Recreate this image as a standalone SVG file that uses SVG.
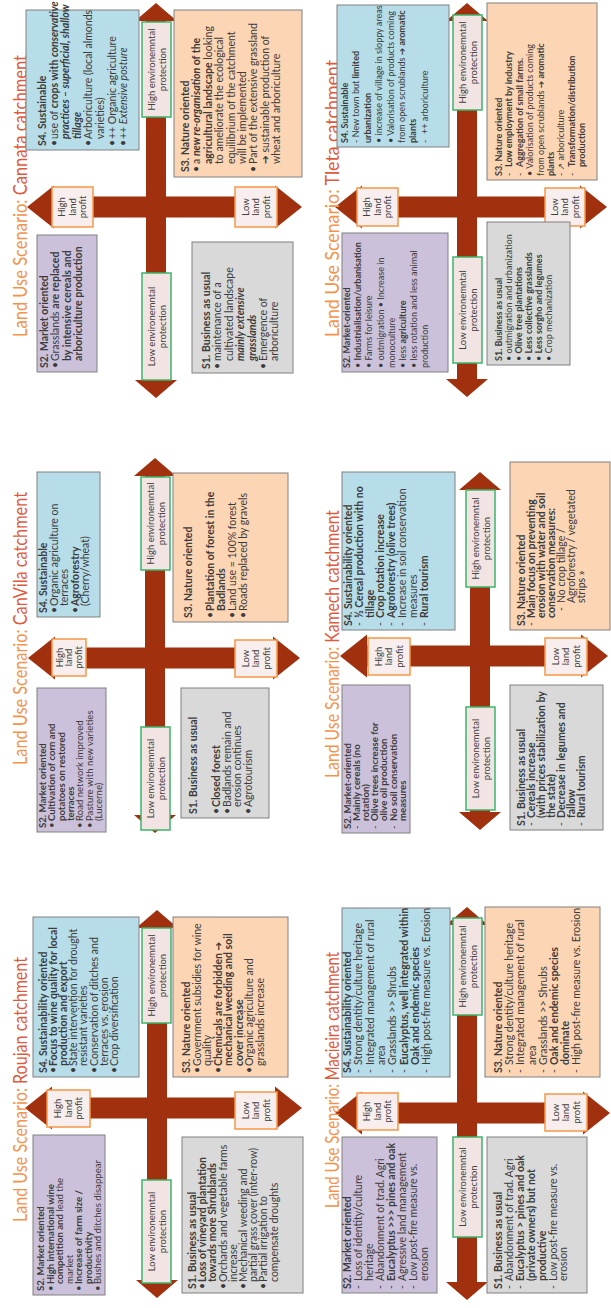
<svg xmlns="http://www.w3.org/2000/svg" width="611" height="1308" viewBox="0 0 611 1308">
<style>
.bx{stroke:#808080;stroke-width:1}
.s1{fill:#d9d9d9}.s2{fill:#ccc1da}.s3{fill:#fcd5b5}.s4{fill:#b7dde8}
.t{font-family:Lato,"Liberation Sans",sans-serif;font-size:10.5px;fill:#3c3c3c}
.sm{font-size:9px}
.md{font-size:9.6px}
.b{font-weight:bold}.i{font-style:italic}
.ar{fill:#a1300e}
.pl{fill:#f7eeed;stroke:#f79646;stroke-width:1.5}
.el{fill:#f2e4e3;stroke:#3cb46b;stroke-width:1.5}
.lb{font-family:Lato,"Liberation Sans",sans-serif;font-size:9.5px;fill:#404040;text-anchor:middle}
.ttl{font-family:Lato,"Liberation Sans",sans-serif;font-size:19px}
.o{fill:#f5934a}.r{fill:#df5a3c}
.sym{font-family:"DejaVu Sans",sans-serif}
</style>
<rect width="611" height="1308" fill="#ffffff"/>
<g transform="translate(0,1308) rotate(-90)">
<g id="connectors">
<polygon class="ar" points="200,25 221.5,52 210.5,52 210.5,275 221.5,275 200,302 178.5,275 189.5,275 189.5,52 178.5,52"/>
<polygon class="ar" points="10,157 28,136 28,147 380,147 380,136 398,157 380,178 380,167 28,167 28,178"/>
<polygon class="ar" points="650,28 671.5,55 660.5,55 660.5,273 671.5,273 650,300 628.5,273 639.5,273 639.5,55 628.5,55"/>
<polygon class="ar" points="475,155 493,134 493,145 832,145 832,134 850,155 832,176 832,165 493,165 493,176"/>
<polygon class="ar" points="1101,27 1122.5,54 1111.5,54 1111.5,275 1122.5,275 1101,302 1079.5,275 1090.5,275 1090.5,54 1079.5,54"/>
<polygon class="ar" points="910,156 928,135 928,146 1287,146 1287,135 1305,156 1287,177 1287,166 928,166 928,177"/>
<polygon class="ar" points="195,335 216.5,362 205.5,362 205.5,583 216.5,583 195,610 173.5,583 184.5,583 184.5,362 173.5,362"/>
<polygon class="ar" points="8,467 26,446 26,457 383,457 383,446 401,467 383,488 383,477 26,477 26,488"/>
<polygon class="ar" points="652,340 673.5,367 662.5,367 662.5,581 673.5,581 652,608 630.5,581 641.5,581 641.5,367 630.5,367"/>
<polygon class="ar" points="478,480 496,459 496,470 818,470 818,459 836,480 818,501 818,490 496,490 496,501"/>
<polygon class="ar" points="1101,335 1122.5,362 1111.5,362 1111.5,580 1122.5,580 1101,607 1079.5,580 1090.5,580 1090.5,362 1079.5,362"/>
<polygon class="ar" points="911,467 929,446 929,457 1287,457 1287,446 1305,467 1287,488 1287,477 929,477 929,488"/>
</g>

<g id="axis-labels">
<rect class="pl" x="181" y="47" width="37" height="43"/><text class="lb" x="199.5" y="61.3">High</text><text class="lb" x="199.5" y="71.8">land</text><text class="lb" x="199.5" y="82.3">profit</text>
<rect class="pl" x="179" y="235" width="37" height="42"/><text class="lb" x="197.5" y="248.8">Low</text><text class="lb" x="197.5" y="259.3">land</text><text class="lb" x="197.5" y="269.8">profit</text>
<rect class="el" x="285" y="142" width="95" height="29"/><text class="lb" x="332.5" y="154.5">High environemntal</text><text class="lb" x="332.5" y="166">protection</text>
<rect class="el" x="25" y="142" width="103" height="29"/><text class="lb" x="76.5" y="154.5">Low environemntal</text><text class="lb" x="76.5" y="166">protection</text>

<rect class="pl" x="632" y="52" width="37" height="34"/><text class="lb" x="650.5" y="62.8">High</text><text class="lb" x="650.5" y="72.3">land</text><text class="lb" x="650.5" y="81.8">profit</text>
<rect class="pl" x="631" y="235" width="37" height="42"/><text class="lb" x="649.5" y="248.8">Low</text><text class="lb" x="649.5" y="259.3">land</text><text class="lb" x="649.5" y="269.8">profit</text>
<rect class="el" x="738" y="141" width="93" height="29"/><text class="lb" x="784.5" y="153.5">High environemntal</text><text class="lb" x="784.5" y="165">protection</text>
<rect class="el" x="478" y="141" width="103" height="29"/><text class="lb" x="529.5" y="153.5">Low environemntal</text><text class="lb" x="529.5" y="165">protection</text>

<rect class="pl" x="1081" y="52" width="40" height="41"/><text class="lb" x="1101" y="65.3">High</text><text class="lb" x="1101" y="75.8">land</text><text class="lb" x="1101" y="86.3">profit</text>
<rect class="pl" x="1081" y="235" width="40" height="42"/><text class="lb" x="1101" y="248.8">Low</text><text class="lb" x="1101" y="259.3">land</text><text class="lb" x="1101" y="269.8">profit</text>
<rect class="el" x="1191" y="142" width="95" height="29"/><text class="lb" x="1238.5" y="154.5">High environemntal</text><text class="lb" x="1238.5" y="166">protection</text>
<rect class="el" x="928" y="142" width="107" height="29"/><text class="lb" x="981.5" y="154.5">Low environemntal</text><text class="lb" x="981.5" y="166">protection</text>

<rect class="pl" x="178" y="357" width="37" height="41"/><text class="lb" x="196.5" y="370.3">High</text><text class="lb" x="196.5" y="380.8">land</text><text class="lb" x="196.5" y="391.3">profit</text>
<rect class="pl" x="177" y="545" width="37" height="42"/><text class="lb" x="195.5" y="558.8">Low</text><text class="lb" x="195.5" y="569.3">land</text><text class="lb" x="195.5" y="579.8">profit</text>
<rect class="el" x="293" y="453" width="97" height="29"/><text class="lb" x="341.5" y="465.5">High environemntal</text><text class="lb" x="341.5" y="477">protection</text>
<rect class="el" x="71" y="453" width="100" height="29"/><text class="lb" x="121" y="465.5">Low environemntal</text><text class="lb" x="121" y="477">protection</text>

<rect class="pl" x="633" y="368" width="37" height="42"/><text class="lb" x="651.5" y="381.8">High</text><text class="lb" x="651.5" y="392.3">land</text><text class="lb" x="651.5" y="402.8">profit</text>
<rect class="pl" x="633" y="545" width="37" height="42"/><text class="lb" x="651.5" y="558.8">Low</text><text class="lb" x="651.5" y="569.3">land</text><text class="lb" x="651.5" y="579.8">profit</text>
<rect class="el" x="721" y="466" width="97" height="29"/><text class="lb" x="769.5" y="478.5">High environemntal</text><text class="lb" x="769.5" y="490">protection</text>
<rect class="el" x="498" y="466" width="103" height="29"/><text class="lb" x="549.5" y="478.5">Low environemntal</text><text class="lb" x="549.5" y="490">protection</text>

<rect class="pl" x="1082" y="357" width="38" height="41"/><text class="lb" x="1101" y="370.3">High</text><text class="lb" x="1101" y="380.8">land</text><text class="lb" x="1101" y="391.3">profit</text>
<rect class="pl" x="1082" y="545" width="38" height="40"/><text class="lb" x="1101" y="557.8">Low</text><text class="lb" x="1101" y="568.3">land</text><text class="lb" x="1101" y="578.8">profit</text>
<rect class="el" x="1198" y="453" width="95" height="29"/><text class="lb" x="1245.5" y="465.5">High environemntal</text><text class="lb" x="1245.5" y="477">protection</text>
<rect class="el" x="945" y="453" width="106" height="29"/><text class="lb" x="998" y="465.5">Low environemntal</text><text class="lb" x="998" y="477">protection</text>
</g>

<g id="titles">
<text class="ttl" x="86" y="27" textLength="265" lengthAdjust="spacingAndGlyphs"><tspan class="o">Land Use Scenario: </tspan><tspan class="r">Roujan catchment</tspan></text>
<text class="ttl" x="543" y="27" textLength="273" lengthAdjust="spacingAndGlyphs"><tspan class="o">Land Use Scenario: </tspan><tspan class="r">CanVila catchment</tspan></text>
<text class="ttl" x="971" y="27" textLength="282" lengthAdjust="spacingAndGlyphs"><tspan class="o">Land Use Scenario: </tspan><tspan class="r">Cannata catchment</tspan></text>
<text class="ttl" x="100" y="339" textLength="256" lengthAdjust="spacingAndGlyphs"><tspan class="o">Land Use Scenario: </tspan><tspan class="r">Macieira catchment</tspan></text>
<text class="ttl" x="530" y="339" textLength="268" lengthAdjust="spacingAndGlyphs"><tspan class="o">Land Use Scenario: </tspan><tspan class="r">Kamech catchment</tspan></text>
<text class="ttl" x="971" y="339" textLength="277" lengthAdjust="spacingAndGlyphs"><tspan class="o">Land Use Scenario: </tspan><tspan class="r">Tleta catchment</tspan></text>
</g>

<!-- ROUJAN -->
<g id="roujan-s2" class="t md">
<rect class="bx s2" x="13" y="33" width="160" height="72"/>
<text class="b" x="17" y="44">S2. Market oriented</text>
<text x="17" y="53.5">•</text><text class="b" x="24" y="53.5">High international wine</text>
<text x="24" y="63"><tspan class="b">competition and</tspan> lead the</text>
<text x="24" y="72.5">market</text>
<text x="17" y="82">•</text><text class="b" x="24" y="82">Increase of farm size /</text>
<text class="b" x="24" y="91.5">productivity</text>
<text x="17" y="101">•</text><text x="24" y="101">Bushes and ditches disappear</text>
</g>
<g id="roujan-s4" class="t">
<rect class="bx s4" x="231" y="33" width="160" height="106"/>
<text class="b" x="235" y="47">S4. Sustainability oriented</text>
<text x="235" y="57.1">•</text><text class="b" x="242" y="57.1">Focus to wine quality for local</text>
<text class="b" x="242" y="67.2">production and export</text>
<text x="235" y="77.3">•</text><text x="242" y="77.3">State intervention for drought</text>
<text x="242" y="87.4">resistant varieties</text>
<text x="235" y="97.5">•</text><text x="242" y="97.5">Conservation of ditches and</text>
<text x="242" y="107.6">terraces vs. erosion</text>
<text x="235" y="117.7">•</text><text x="242" y="117.7">Crop diversification</text>
</g>
<g id="roujan-s3" class="t">
<rect class="bx s3" x="231" y="173" width="160" height="115"/>
<text class="b" x="235" y="190">S3. Nature oriented</text>
<text x="235" y="200.5">•</text><text x="242" y="200.5">Government subsidies for wine</text>
<text x="242" y="211">quality</text>
<text x="235" y="221.5">•</text><text class="b" x="242" y="221.5">Chemicals are forbidden <tspan class="sym">➔</tspan></text>
<text class="b" x="242" y="232">mechanical weeding and soil</text>
<text class="b" x="242" y="242.5">cover increase</text>
<text x="235" y="253">•</text><text x="242" y="253">Organic agriculture and</text>
<text x="242" y="263.5">grasslands increase</text>
</g>
<g id="roujan-s1" class="t">
<rect class="bx s1" x="15" y="182" width="156" height="121"/>
<text class="b" x="19" y="196">S1. Business as usual</text>
<text x="19" y="206.2">•</text><text class="b" x="26" y="206.2">Loss of vineyard plantation</text>
<text class="b" x="26" y="216.4">towards more Shrublands</text>
<text x="19" y="226.6">•</text><text x="26" y="226.6">Orchards and vegetable farms</text>
<text x="26" y="236.8">increase</text>
<text x="19" y="247">•</text><text x="26" y="247">Mechanical weeding and</text>
<text x="26" y="257.2">partial grass cover (inter-row)</text>
<text x="19" y="267.4">•</text><text x="26" y="267.4">Partial irrigation to</text>
<text x="26" y="277.6">compensate droughts</text>
</g>

<!-- CANVILA -->
<g id="canvila-s2" class="t md">
<rect class="bx s2" x="476" y="37" width="144" height="69"/>
<text class="b" x="480" y="46">S2. Market oriented</text>
<text x="480" y="55.3">•</text><text class="b" x="487" y="55.3">Cultivation of corn and</text>
<text class="b" x="487" y="64.6">potatoes on restored</text>
<text class="b" x="487" y="73.9">terraces</text>
<text x="480" y="83.2">•</text><text x="487" y="83.2">Road network improved</text>
<text x="480" y="92.5">•</text><text x="487" y="92.5">Pasture with new varieties</text>
<text x="487" y="101.8">(Lucerne)</text>
</g>
<g id="canvila-s4" class="t">
<rect class="bx s4" x="691" y="37" width="145" height="63"/>
<text class="b" x="695" y="47">S4. Sustainable</text>
<text x="695" y="57.5">•</text><text x="702" y="57.5">Organic agriculture on</text>
<text x="702" y="68">terraces</text>
<text x="695" y="78.5">•</text><text class="b" x="702" y="78.5">Agroforestry</text>
<text x="702" y="89">(Cherry/wheat)</text>
</g>
<g id="canvila-s3" class="t">
<rect class="bx s3" x="686" y="173" width="149" height="115"/>
<text class="b" x="690" y="192">S3. Nature oriented</text>
<text x="690" y="214">•</text><text class="b" x="697" y="214">Plantation of forest in the</text>
<text class="b" x="697" y="225">Badlands</text>
<text x="690" y="236">•</text><text x="697" y="236">Land use = 100% forest</text>
<text x="690" y="247">•</text><text x="697" y="247">Roads replaced by gravels</text>
</g>
<g id="canvila-s1" class="t">
<rect class="bx s1" x="490" y="181" width="130" height="88"/>
<text class="b" x="494" y="197">S1. Business as usual</text>
<text x="494" y="220">•</text><text class="b" x="501" y="220">Closed forest</text>
<text x="494" y="230.5">•</text><text x="501" y="230.5">Badlands remain and</text>
<text x="501" y="241">erosion continues</text>
<text x="494" y="251.5">•</text><text x="501" y="251.5">Agrotourism</text>
</g>

<!-- CANNATA -->
<g id="cannata-s4" class="t">
<rect class="bx s4" x="1158" y="26" width="140" height="113"/>
<text class="b" x="1162" y="46">S4. Sustainable</text>
<text x="1162" y="57.6">•</text><text x="1169" y="57.6">use of <tspan class="b">crops with </tspan><tspan class="b i">conservative</tspan></text>
<text class="b i" x="1169" y="69.2">practices – superficial, shallow</text>
<text class="b i" x="1169" y="80.8">tillage</text>
<text x="1162" y="92.4">•</text><text x="1169" y="92.4">Arboriculture (local almonds</text>
<text x="1169" y="104">varieties)</text>
<text x="1162" y="115.6">•</text><text x="1169" y="115.6">++ Organic agriculture</text>
<text x="1162" y="127.2">•</text><text x="1169" y="127.2">++ <tspan class="i">Extensive posture</tspan></text>
</g>
<g id="cannata-s2" class="t">
<rect class="bx s2" x="936" y="37" width="137" height="60"/>
<text class="b" x="940" y="47.5">S2. Market oriented</text>
<text x="940" y="59">•</text><text x="947" y="59">Grasslands <tspan class="b">are replaced</tspan></text>
<text class="b" x="947" y="70.5">by intensive cereals and</text>
<text class="b" x="947" y="82">arboriculture production</text>
</g>
<g id="cannata-s3" class="t">
<rect class="bx s3" x="1131" y="174" width="167" height="128"/>
<text class="b" x="1136" y="189">S3. Nature oriented</text>
<text x="1136" y="200.4">•</text><text x="1144" y="200.4">a <tspan class="b i">new re-organisation</tspan><tspan class="b"> of the</tspan></text>
<text x="1144" y="211.8"><tspan class="b">agricultural landscape</tspan> looking</text>
<text x="1144" y="223.2">to ameliorate the ecological</text>
<text x="1144" y="234.6">equilibrium of the catchment</text>
<text x="1144" y="246">will be implemented</text>
<text x="1136" y="257.4">•</text><text x="1144" y="257.4">Part of the extensive grassland</text>
<text x="1144" y="268.8"><tspan class="sym b">➔</tspan> sustainable production of</text>
<text x="1144" y="280.2">wheat and arboriculture</text>
</g>
<g id="cannata-s1" class="t">
<rect class="bx s1" x="935" y="192" width="131" height="101"/>
<text class="b" x="939" y="210">S1. Business as usual</text>
<text x="939" y="221.4">•</text><text x="947" y="221.4">maintenance of a</text>
<text x="947" y="232.8">cultivated landscape</text>
<text class="b i" x="947" y="244.2">mainly extensive</text>
<text class="b i" x="947" y="255.6">grasslands</text>
<text x="939" y="267">•</text><text x="947" y="267">Emergence of</text>
<text x="947" y="278.4">arboriculture</text>
</g>

<!-- MACIEIRA -->
<g id="macieira-s2" class="t">
<rect class="bx s2" x="15" y="342" width="156" height="95"/>
<text class="b" x="19" y="351">S2. Market oriented</text>
<text x="19" y="362">-</text><text x="27" y="362">Loss of identity/culture</text>
<text x="27" y="373">heritage</text>
<text x="19" y="384">-</text><text x="27" y="384">Abandonment of trad. Agri</text>
<text x="19" y="395">-</text><text class="b" x="27" y="395">Eucalyptus &gt;&gt;&gt; pines and oak</text>
<text x="19" y="406">-</text><text x="27" y="406">Agressive land management</text>
<text x="19" y="417">-</text><text x="27" y="417">Low post-fire measure vs.</text>
<text x="27" y="428">erosion</text>
</g>
<g id="macieira-s4" class="t">
<rect class="bx s4" x="231" y="342" width="169" height="108"/>
<text class="b" x="235" y="351">S4. Sustainability oriented</text>
<text x="235" y="362.3">-</text><text x="243" y="362.3">Strong dentity/culture heritage</text>
<text x="235" y="373.6">-</text><text x="243" y="373.6">Integrated management of rural</text>
<text x="243" y="384.9">area</text>
<text x="235" y="396.2">-</text><text x="243" y="396.2">Grasslands &gt;&gt; Shrubs</text>
<text x="235" y="407.5">-</text><text class="b" x="243" y="407.5">Eucalyptus, well integrated within</text>
<text class="b" x="243" y="418.8">Oak and endemic species</text>
<text x="235" y="430.1">-</text><text x="243" y="430.1">High post-fire measure vs. Erosion</text>
</g>
<g id="macieira-s3" class="t">
<rect class="bx s3" x="231" y="485" width="170" height="115"/>
<text class="b" x="235" y="502">S3. Nature oriented</text>
<text x="235" y="513.2">-</text><text x="243" y="513.2">Strong dentity/culture heritage</text>
<text x="235" y="524.4">-</text><text x="243" y="524.4">Integrated management of rural</text>
<text x="243" y="535.6">area</text>
<text x="235" y="546.8">-</text><text x="243" y="546.8">Grasslands &gt;&gt; Shrubs</text>
<text x="235" y="558">-</text><text class="b" x="243" y="558">Oak and endemic species</text>
<text class="b" x="243" y="569.2">dominate</text>
<text x="235" y="580.4">-</text><text x="243" y="580.4">High post-fire measure vs. Erosion</text>
</g>
<g id="macieira-s1" class="t">
<rect class="bx s1" x="15" y="487" width="156" height="100"/>
<text class="b" x="19" y="502">S1. Business as usual</text>
<text x="19" y="512.9">-</text><text x="27" y="512.9">Abandonment of trad. Agri</text>
<text x="19" y="523.8">-</text><text class="b" x="27" y="523.8">Eucalyptus &gt; pines and oak</text>
<text class="b" x="27" y="534.7">(private owners) but not</text>
<text class="b" x="27" y="545.6">productive</text>
<text x="19" y="556.5">-</text><text x="27" y="556.5">Low post-fire measure vs.</text>
<text x="27" y="567.4">erosion</text>
</g>

<!-- KAMECH -->
<g id="kamech-s2" class="t md">
<rect class="bx s2" x="475" y="342" width="148" height="68"/>
<text class="b" x="479" y="351">S2. Market-oriented</text>
<text x="479" y="360.1">-</text><text class="b" x="487" y="360.1">Mainly cereals (no</text>
<text class="b" x="487" y="369.2">rotation)</text>
<text x="479" y="378.3">-</text><text class="b" x="487" y="378.3">Olive trees increase for</text>
<text class="b" x="487" y="387.4">olive oil production</text>
<text x="479" y="396.5">-</text><text class="b" x="487" y="396.5">No soil conservation</text>
<text class="b" x="487" y="405.6">measures</text>
</g>
<g id="kamech-s4" class="t">
<rect class="bx s4" x="678" y="342" width="158" height="113"/>
<text class="b" x="682" y="352">S4. Sustainability oriented</text>
<text x="682" y="362.8">-</text><text class="b" x="690" y="362.8">½ Cereal production with no</text>
<text class="b" x="690" y="373.6">tillage</text>
<text x="682" y="384.4">-</text><text class="b" x="690" y="384.4">Crop rotation increase</text>
<text x="682" y="395.2">-</text><text class="b" x="690" y="395.2">Agroforestry (olive trees)</text>
<text x="682" y="406">-</text><text x="690" y="406">Increase in soil conservation</text>
<text x="690" y="416.8">measures</text>
<text x="682" y="427.6">-</text><text class="b" x="690" y="427.6">Rural tourism</text>
</g>
<g id="kamech-s3" class="t">
<rect class="bx s3" x="678" y="510" width="168" height="100"/>
<text class="b" x="682" y="525">S3. Nature oriented</text>
<text x="682" y="535">-</text><text class="b" x="690" y="535">Main focus on preventing</text>
<text class="b" x="690" y="545">erosion with water and soil</text>
<text class="b" x="690" y="555">conservation measures:</text>
<text x="697" y="565">-</text><text x="705" y="565">No crop tillage /</text>
<text x="705" y="575">Agroforestry / vegetated</text>
<text x="705" y="585">strips »</text>
</g>
<g id="kamech-s1" class="t">
<rect class="bx s1" x="478" y="510" width="145" height="93"/>
<text class="b" x="482" y="525">S1. Business as usual</text>
<text x="482" y="535">-</text><text class="b" x="490" y="535">Cereals increase</text>
<text class="b" x="490" y="545">(with prices stabilization by</text>
<text class="b" x="490" y="555">the state)</text>
<text x="482" y="565">-</text><text class="b" x="490" y="565">Decrease in legumes and</text>
<text class="b" x="490" y="575">fallow</text>
<text x="482" y="585">-</text><text class="b" x="490" y="585">Rural tourism</text>
</g>

<!-- TLETA -->
<g id="tleta-s4" class="t sm">
<rect class="bx s4" x="1161" y="337" width="142" height="112"/>
<text class="b" x="1165" y="348">S4. Sustainable</text>
<text x="1165" y="359.4">- New town but <tspan class="b">limited</tspan></text>
<text class="b" x="1165" y="370.8">urbanization</text>
<text x="1165" y="382.2">• increase of village in sloppy areas</text>
<text x="1165" y="393.6">• Valorisation of products coming</text>
<text x="1165" y="405">from open scrublands <tspan class="b"><tspan class="sym">➔</tspan> aromatic</tspan></text>
<text class="b" x="1165" y="416.4">plants</text>
<text x="1165" y="427.8">-</text><text x="1174" y="427.8">++ arboriculture</text>
</g>
<g id="tleta-s2" class="t sm">
<rect class="bx s2" x="936" y="342" width="139" height="106"/>
<text class="b" x="940" y="350">S2. Market-oriented</text>
<text x="940" y="361.2">• <tspan class="b">Industrialisation/urbanisation</tspan></text>
<text x="940" y="372.4">• Farms for leisure</text>
<text x="940" y="383.6">• outmigration • Increase in</text>
<text x="940" y="394.8">monoculture</text>
<text x="940" y="406">• less <tspan class="b">agriculture</tspan></text>
<text x="940" y="417.2">• less rotation  and  less animal</text>
<text x="940" y="428.4">production</text>
</g>
<g id="tleta-s3" class="t sm">
<rect class="bx s3" x="1128" y="487" width="177" height="110"/>
<text class="b" x="1132" y="502">S3. Nature oriented</text>
<text x="1132" y="512.4">-</text><text class="b" x="1141" y="512.4">Low employment by industry</text>
<text x="1132" y="522.8">-</text><text class="b" x="1141" y="522.8">Aggregation of small farms.</text>
<text x="1132" y="533.2">• Valorisation of products coming</text>
<text x="1132" y="543.6">from open scrublands <tspan class="b"><tspan class="sym">➔</tspan> aromatic</tspan></text>
<text class="b" x="1132" y="554">plants</text>
<text x="1132" y="564.4">- <tspan class="sym">↗</tspan> arboriculture</text>
<text x="1132" y="574.8">-</text><text class="b" x="1141" y="574.8">Transformation/distribution</text>
<text class="b" x="1141" y="585.2">production</text>
</g>
<g id="tleta-s1" class="t sm">
<rect class="bx s1" x="943" y="487" width="143" height="83"/>
<text class="b" x="947" y="502">S1. Business as usual</text>
<text x="947" y="512">• outmigration and urbanization</text>
<text x="947" y="522">• <tspan class="b">Olive tree plantations</tspan></text>
<text x="947" y="532">• <tspan class="b">Less collective grasslands</tspan></text>
<text x="947" y="542">• <tspan class="b">Less sorgho and legumes</tspan></text>
<text x="947" y="552">• Crop mechanization</text>
</g>
</g>
</svg>
